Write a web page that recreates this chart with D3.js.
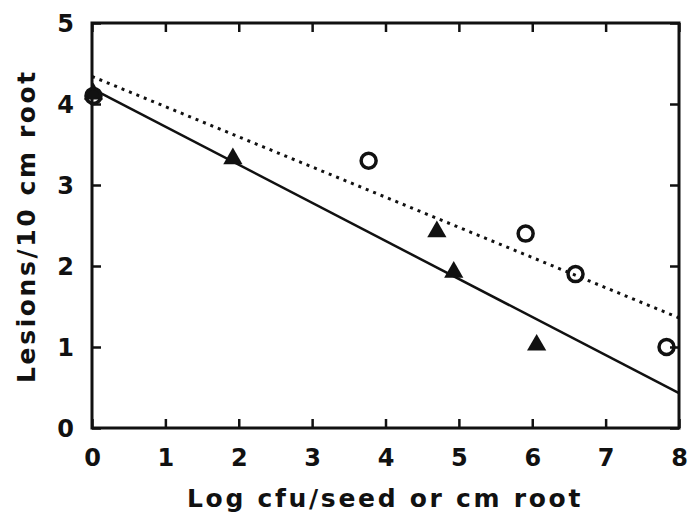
<!DOCTYPE html>
<html><head><meta charset="utf-8">
<script src="https://cdn.jsdelivr.net/npm/d3@7"></script>
<style>body{margin:0;background:#fff}svg{display:block}text{font-family:"DejaVu Sans",sans-serif;font-weight:bold;fill:#111}</style>
</head><body><svg id="c" width="696" height="513"></svg>
<script>
const xTicks = [0,1,2,3,4,5,6,7,8];
const yTicks = [0,1,2,3,4,5];
const circleX = [0.02, 3.77, 5.91, 6.59, 7.83];
const circleY = [4.1, 3.3, 2.4, 1.9, 1.0];
const triX = [0.02, 1.92, 4.70, 4.93, 6.06];
const triY = [4.1, 3.3, 2.4, 1.9, 1.0];
const solidLine = [[0, 4.19], [8, 0.43]];
const dottedLine = [[0, 4.34], [8, 1.36]];
const xTitle = "Log cfu/seed or cm root";
const yTitle = "Lesions/10 cm root";

const svg = d3.select("#c");
const L=92, R=679, T=23, B=428;
const x = d3.scaleLinear().domain([0,8]).range([L,R]);
const y = d3.scaleLinear().domain([0,5]).range([B,T]);
const ink="#111";

svg.append("rect").attr("x",L).attr("y",T).attr("width",R-L).attr("height",B-T)
  .attr("fill","none").attr("stroke",ink).attr("stroke-width",3);

const tl=9;
const gx=svg.append("g").attr("transform",`translate(0,${B})`)
  .call(d3.axisBottom(x).tickValues(xTicks).tickSizeInner(-tl).tickSizeOuter(0).tickPadding(21).tickFormat(d3.format("d")));
const gxt=svg.append("g").attr("transform",`translate(0,${T})`)
  .call(d3.axisTop(x).tickValues(xTicks).tickSizeInner(-tl).tickSizeOuter(0).tickFormat(""));
const gy=svg.append("g").attr("transform",`translate(${L},0)`)
  .call(d3.axisLeft(y).tickValues(yTicks).tickSizeInner(-tl).tickSizeOuter(0).tickPadding(18).tickFormat(d3.format("d")));
const gyr=svg.append("g").attr("transform",`translate(${R},0)`)
  .call(d3.axisRight(y).tickValues(yTicks).tickSizeInner(-tl).tickSizeOuter(0).tickFormat(""));
[gx,gxt,gy,gyr].forEach(g=>{
  g.select(".domain").remove();
  g.selectAll(".tick line").attr("stroke",ink).attr("stroke-width",2.5);
  g.selectAll("text").style("font-size","24px").attr("fill",ink);
});
gy.selectAll("text").attr("dy","0.36em");

const line=d3.line().x(d=>x(d[0])).y(d=>y(d[1]));
svg.append("path").attr("d",line(solidLine)).attr("stroke",ink).attr("stroke-width",2.5).attr("fill","none");
svg.append("path").attr("d",line(dottedLine)).attr("stroke",ink).attr("stroke-width",3).attr("fill","none")
  .attr("stroke-dasharray","3,5");

const tri=d3.symbol().type(d3.symbolTriangle).size(160);
svg.append("g").selectAll("path").data(triX).join("path")
  .attr("transform",(d,i)=>`translate(${x(d)},${y(triY[i])-2})`)
  .attr("d",tri).attr("fill",ink);
svg.append("g").selectAll("circle").data(circleX).join("circle")
  .attr("cx",d=>x(d)).attr("cy",(d,i)=>y(circleY[i]))
  .attr("r",7.5).attr("fill","none").attr("stroke",ink).attr("stroke-width",3.5);

svg.append("text").attr("x",385).attr("y",507).attr("text-anchor","middle")
  .style("font-size","25px").style("letter-spacing","2.7px").text(xTitle);
svg.append("text").attr("transform",`translate(35,226) rotate(-90)`).attr("text-anchor","middle")
  .style("font-size","25px").style("letter-spacing","2.6px").text(yTitle);
</script></body></html>
